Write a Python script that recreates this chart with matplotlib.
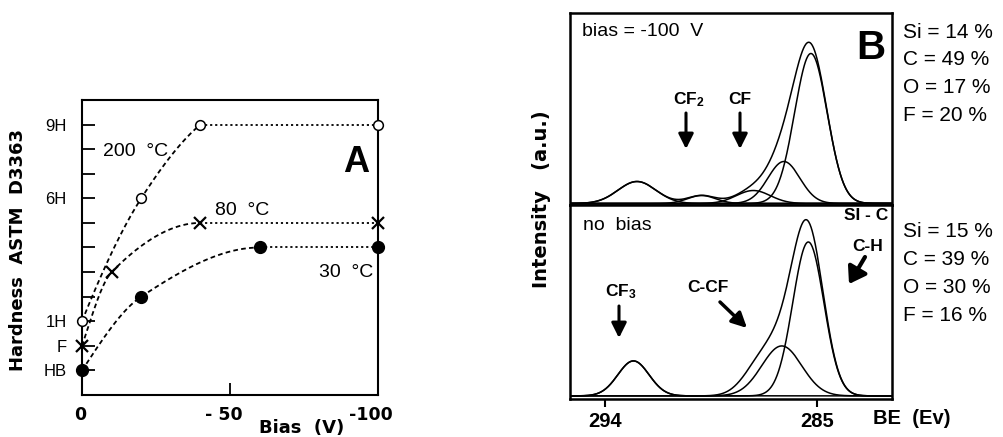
import numpy as np
import matplotlib
matplotlib.use("Agg")
import matplotlib.pyplot as plt
from matplotlib.transforms import ScaledTranslation

plt.rcParams['font.family'] = ['Liberation Sans', 'DejaVu Sans']
plt.rcParams['mathtext.fontset'] = 'custom'
plt.rcParams['mathtext.rm'] = 'Liberation Sans'
plt.rcParams['mathtext.bf'] = 'Liberation Sans:bold'

# ---------------- Panel A data ----------------
hard_ticks = [0, 1, 2, 3, 4, 5, 6, 7, 8, 9, 10]
hard_labels = ['HB', 'F', '1H', '', '', '', '', '6H', '', '', '9H']
bias_ticks = [0, 50, 100]
bias_labels = ['0', '- 50', '-100']

bias_200 = [0, 20, 40, 100]
hard_200 = [2, 7, 10, 10]
bias_80 = [0, 10, 40, 100]
hard_80 = [1, 4, 6, 6]
bias_30 = [0, 20, 60, 100]
hard_30 = [0, 3, 5, 5]
series_labels = ['200  °C', '80  °C', '30  °C']

# ---------------- Panel B data (peak fit components) ----------------
be_ticks = [294, 285]
top_centers = [285.25, 286.4, 287.7, 289.9, 292.65]
top_heights = [150, 42, 13, 8, 22]
top_fwhm = [1.63, 1.6, 1.7, 1.4, 1.9]

bot_centers = [285.36, 286.49, 292.8]
bot_heights = [154, 50, 35]
bot_fwhm = [1.56, 2.0, 1.56]
bot_shoulder = [287.6, 16, 1.6]   # C-CF shoulder contained in envelope

top_comp = ['Si = 14 %', 'C = 49 %', 'O = 17 %', 'F = 20 %']
bot_comp = ['Si = 15 %', 'C = 39 %', 'O = 30 %', 'F = 16 %']

W, H = 1004, 437
fig = plt.figure(figsize=(W / 100, H / 100), dpi=100)


def box(l, t, r, b):
    return [l / W, 1 - b / H, (r - l) / W, (b - t) / H]


def ft(x, y, s, **kw):
    return fig.text(x / W, 1 - y / H, s, **kw)


def arrow(x1, y1, x2, y2, lw=2.2, style='-|>,head_length=0.5,head_width=0.25', ms=18):
    fig.add_artist(matplotlib.patches.FancyArrowPatch(
        (x1 / W, 1 - y1 / H), (x2 / W, 1 - y2 / H), transform=fig.transFigure,
        arrowstyle=style, mutation_scale=ms, lw=lw, color='k',
        shrinkA=0, shrinkB=0))


def pchip(x, y, xs):
    x = np.asarray(x, float)
    y = np.asarray(y, float)
    h = np.diff(x)
    d = np.diff(y) / h
    n = len(x)
    m = np.zeros(n)
    for k in range(1, n - 1):
        if d[k - 1] * d[k] > 0:
            w1 = 2 * h[k] + h[k - 1]
            w2 = h[k] + 2 * h[k - 1]
            m[k] = (w1 + w2) / (w1 / d[k - 1] + w2 / d[k])

    def endslope(h0, h1, d0, d1):
        s = ((2 * h0 + h1) * d0 - h0 * d1) / (h0 + h1)
        if np.sign(s) != np.sign(d0):
            return 0.0
        if np.sign(d0) != np.sign(d1) and abs(s) > 3 * abs(d0):
            return 3 * d0
        return s
    m[0] = endslope(h[0], h[1], d[0], d[1])
    m[-1] = endslope(h[-1], h[-2], d[-1], d[-2])
    out = np.empty_like(xs)
    for i, xv in enumerate(xs):
        k = min(np.searchsorted(x, xv, side='right') - 1, n - 2)
        k = max(k, 0)
        t = (xv - x[k]) / h[k]
        h00 = 2 * t**3 - 3 * t**2 + 1
        h10 = t**3 - 2 * t**2 + t
        h01 = -2 * t**3 + 3 * t**2
        h11 = t**3 - t**2
        out[i] = h00 * y[k] + h10 * h[k] * m[k] + h01 * y[k + 1] + h11 * h[k] * m[k + 1]
    return out


# ---------------- Panel A ----------------
axA = fig.add_axes(box(82, 100, 378, 395))
for bx, hy, mk in [(bias_200, hard_200, 'open'), (bias_80, hard_80, 'x'), (bias_30, hard_30, 'filled')]:
    xs = np.linspace(bx[0], bx[2], 200)
    axA.plot(xs, pchip(bx[:3], hy[:3], xs), color='k', lw=1.3, ls=(0, (2.6, 1.8)))
    axA.plot(bx[2:], hy[2:], color='k', lw=1.3, ls=(0, (1.2, 1.6)))
    if mk == 'open':
        axA.plot(bx, hy, 'o', ms=7, mfc='white', mec='k', mew=1.1, clip_on=False, zorder=5)
    elif mk == 'x':
        axA.plot(bx, hy, 'x', ms=8.5, mec='k', mew=1.6, clip_on=False, zorder=5)
    else:
        axA.plot(bx, hy, 'o', ms=8.5, mfc='k', mec='k', clip_on=False, zorder=5)

axA.set_xlim(0, 100)
axA.set_ylim(-1, 11)
axA.set_yticks(hard_ticks)
axA.set_yticklabels(hard_labels, fontsize=12)
axA.set_xticks(bias_ticks)
axA.set_xticklabels(bias_labels, fontsize=12.5, fontweight='bold', family='DejaVu Sans')
axA.tick_params(axis='y', direction='in', length=9, width=1.3, pad=11)
axA.tick_params(axis='x', direction='in', length=9, width=1.3, pad=8)
for lab, dx in zip(axA.get_xticklabels(), [-2, -6, -7]):
    lab.set_transform(lab.get_transform() + ScaledTranslation(dx / 100, 0, fig.dpi_scale_trans))
for s in axA.spines.values():
    s.set_linewidth(1.5)

axA.text(7, 8.9, series_labels[0], fontsize=14, va='center', ha='left')
axA.text(45, 6.5, series_labels[1], fontsize=14, va='center', ha='left')
axA.text(80, 4.0, series_labels[2], fontsize=14, va='center', ha='left')
ft(356, 163, 'A', fontsize=26, fontweight='bold', ha='center', va='center')
ft(18, 250, 'Hardness  ASTM  D3363', rotation=90, fontsize=13, fontweight='bold',
   family='DejaVu Sans', ha='center', va='center')
ft(302, 428, 'Bias  (V)', fontsize=13, fontweight='bold', family='DejaVu Sans',
   ha='center', va='center')

# ---------------- Panel B ----------------
axT = fig.add_axes(box(570, 12.5, 892, 205))
axB = fig.add_axes(box(570, 205, 892, 398.5))
be = np.linspace(281.5, 296, 900)


def gauss(c, h, w):
    return h * np.exp(-4 * np.log(2) * ((be - c) / w) ** 2)


env = np.zeros_like(be)
for c, h, w in zip(top_centers, top_heights, top_fwhm):
    g = gauss(c, h, w)
    env += g
    axT.plot(be, g, color='k', lw=1.1)
axT.plot(be, env, color='k', lw=1.1)

env = gauss(*bot_shoulder)
for c, h, w in zip(bot_centers, bot_heights, bot_fwhm):
    g = gauss(c, h, w)
    env += g
    axB.plot(be, g, color='k', lw=1.1)
axB.plot(be, env, color='k', lw=1.1)

for ax in (axT, axB):
    ax.set_xlim(295.5, 281.8)
    ax.set_yticks([])
    for s in ax.spines.values():
        s.set_linewidth(1.8)
axT.set_ylim(-1.5, 191)
axB.set_ylim(-2.6, 191)
axT.set_xticks([])
axB.set_xticks(be_ticks)
axB.set_xticklabels([str(t) for t in be_ticks], fontsize=14.5, fontweight='bold')
axB.tick_params(axis='x', direction='out', length=6, width=1.5, pad=4)

ft(871, 48, 'B', fontsize=29, fontweight='bold', ha='center', va='center')
ft(582, 32, 'bias = -100  V', fontsize=14, ha='left', va='center')
ft(583, 225, 'no  bias', fontsize=14, ha='left', va='center')
for i, s in enumerate(top_comp):
    ft(903, 32 + 27.7 * i, s, fontsize=15, ha='left', va='center')
for i, s in enumerate(bot_comp):
    ft(903, 232 + 27.7 * i, s, fontsize=15, ha='left', va='center')

ft(689, 100, r'$\mathbf{CF_2}$', fontsize=12.5, ha='center', va='center')
arrow(686, 113, 686, 149)
ft(740, 100, 'CF', fontsize=12.5, fontweight='bold', ha='center', va='center')
arrow(740, 113, 740, 149)
ft(621, 292, r'$\mathbf{CF_3}$', fontsize=12.5, ha='center', va='center')
arrow(619, 306, 619, 338)
ft(708, 288, 'C-CF', fontsize=12.5, fontweight='bold', ha='center', va='center')
arrow(720, 302, 747, 328, lw=2.5)
ft(866, 215, 'SI - C', fontsize=12.5, fontweight='bold', ha='center', va='center')
ft(868, 247, 'C-H', fontsize=12.5, fontweight='bold', ha='center', va='center')
arrow(865, 257, 849, 284, lw=3, style='-|>,head_length=0.6,head_width=0.4', ms=16)

ft(542, 199, 'Intensity   (a.u.)', rotation=90, fontsize=14, fontweight='bold',
   family='DejaVu Sans', ha='center', va='center')
ft(873, 418, 'BE  (Ev)', fontsize=14.5, fontweight='bold', ha='left', va='center')

fig.savefig('out.png', dpi=100)
